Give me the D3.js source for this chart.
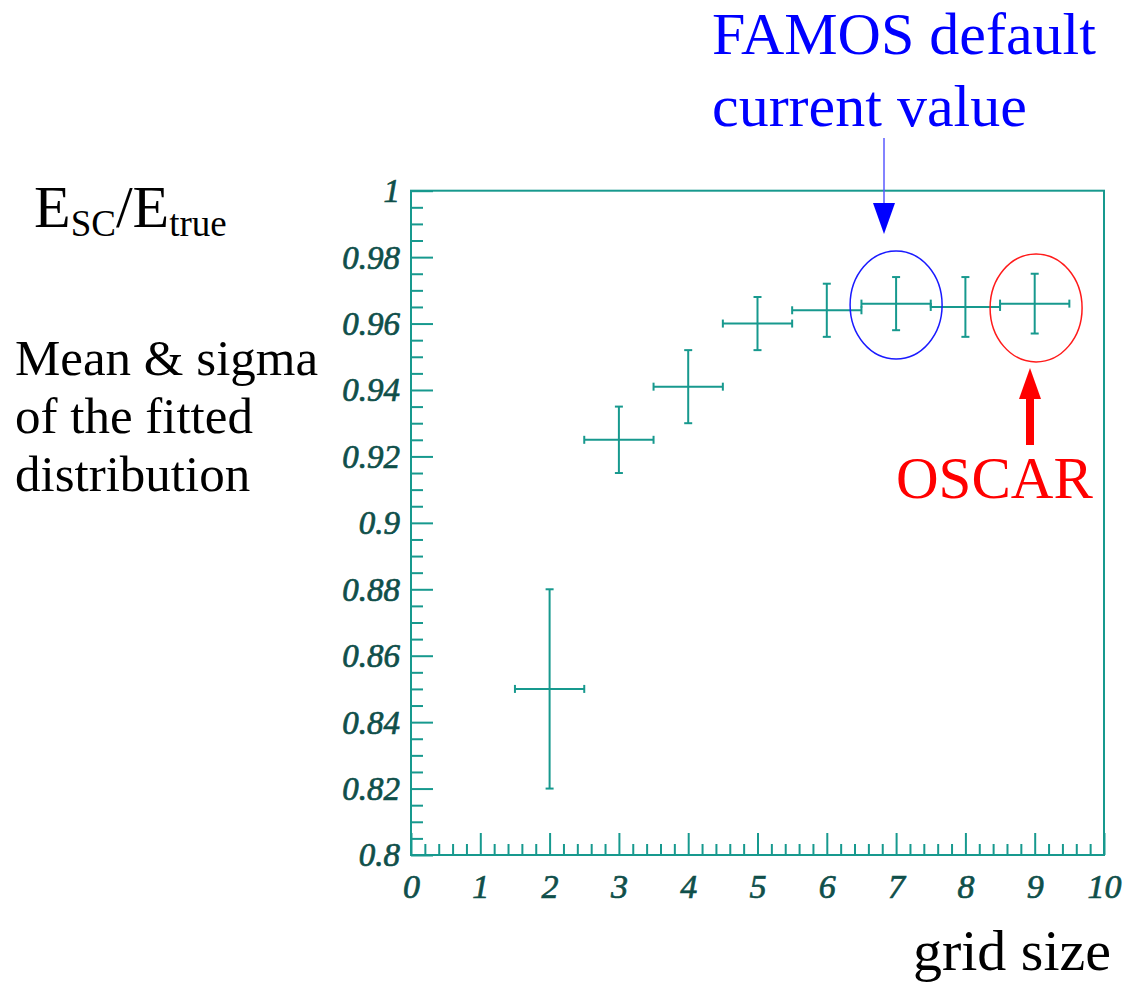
<!DOCTYPE html>
<html>
<head>
<meta charset="utf-8">
<script src="https://cdn.jsdelivr.net/npm/d3@7"></script>
<style>
  html, body { margin: 0; padding: 0; background: #fff; }
  svg { display: block; }
</style>
</head>
<body>
<script>
// ---- data ----
const gridSize = [2, 3, 4, 5, 6, 7, 8, 9];
const meanVal  = [0.850, 0.925, 0.941, 0.960, 0.964, 0.966, 0.965, 0.966];
const sigmaVal = [0.030, 0.010, 0.011, 0.008, 0.008, 0.008, 0.009, 0.009];
const xHalfWidth = 0.5;
const xTicks = [0, 1, 2, 3, 4, 5, 6, 7, 8, 9, 10];
const yTicks = [0.8, 0.82, 0.84, 0.86, 0.88, 0.9, 0.92, 0.94, 0.96, 0.98, 1];
const yTickLabels = ["0.8", "0.82", "0.84", "0.86", "0.88", "0.9", "0.92", "0.94", "0.96", "0.98", "1"];
const xTickLabels = ["0", "1", "2", "3", "4", "5", "6", "7", "8", "9", "10"];
const famosPoint = [7, 0.9656];
const oscarPoint = [9.02, 0.9647];

// ---- layout ----
const W = 1124, H = 988;
const L = 411, R = 1104, T = 190.7, B = 855;
const axisColor = "#17998e";
const labelColor = "#0f4f4a";

const svg = d3.select("body").append("svg").attr("width", W).attr("height", H);

const x = d3.scaleLinear().domain([0, 10]).range([L, R]);
const y = d3.scaleLinear().domain([0.8, 1]).range([B, T]);

// minor ticks
const xMinor = d3.range(0, 10.001, 0.2).filter(v => Math.abs(v - Math.round(v)) > 1e-6);
const yMinor = d3.range(0.8, 1.0001, 0.005).filter(v => Math.abs(v * 50 - Math.round(v * 50)) > 1e-6);

const gx = svg.append("g").attr("transform", `translate(0,${B})`)
  .call(d3.axisBottom(x).tickValues(xTicks).tickSize(-22).tickPadding(12)
    .tickFormat((d, i) => xTickLabels[i]));
const gxm = svg.append("g").attr("transform", `translate(0,${B})`)
  .call(d3.axisBottom(x).tickValues(xMinor).tickSize(-11).tickFormat(""));
const gy = svg.append("g").attr("transform", `translate(${L},0)`)
  .call(d3.axisLeft(y).tickValues(yTicks).tickSize(-22).tickPadding(11)
    .tickFormat((d, i) => yTickLabels[i]));
const gym = svg.append("g").attr("transform", `translate(${L},0)`)
  .call(d3.axisLeft(y).tickValues(yMinor).tickSize(-12).tickFormat(""));

[gx, gxm, gy, gym].forEach(g => {
  g.select(".domain").remove();
  g.selectAll(".tick line").attr("stroke", axisColor).attr("stroke-width", 2);
});
[gx, gy].forEach(g => g.selectAll(".tick text")
  .attr("fill", labelColor)
  .attr("stroke", labelColor)
  .attr("stroke-width", 0.7)
  .attr("font-family", "Liberation Serif, Times New Roman, serif")
  .attr("font-style", "italic"));
gy.selectAll(".tick text").attr("font-size", 33).attr("dy", "0.33em");
gx.selectAll(".tick text").attr("font-size", 34).attr("dy", "0.9em");

// frame
svg.append("rect").attr("x", L).attr("y", T).attr("width", R - L).attr("height", B - T)
  .attr("fill", "none").attr("stroke", axisColor).attr("stroke-width", 2);

// error bars
const pts = gridSize.map((g, i) => ({ g, m: meanVal[i], s: sigmaVal[i] }));
const eb = svg.append("g").attr("stroke", axisColor).attr("stroke-width", 2).attr("fill", "none");
const cap = 4;
pts.forEach(p => {
  const cx = x(p.g), cy = y(p.m);
  const x0 = x(p.g - xHalfWidth), x1 = x(p.g + xHalfWidth);
  const y0 = y(p.m - p.s), y1 = y(p.m + p.s);
  eb.append("line").attr("x1", x0).attr("x2", x1).attr("y1", cy).attr("y2", cy);
  eb.append("line").attr("x1", cx).attr("x2", cx).attr("y1", y0).attr("y2", y1);
  eb.append("line").attr("x1", x0).attr("x2", x0).attr("y1", cy - cap).attr("y2", cy + cap);
  eb.append("line").attr("x1", x1).attr("x2", x1).attr("y1", cy - cap).attr("y2", cy + cap);
  eb.append("line").attr("x1", cx - cap).attr("x2", cx + cap).attr("y1", y0).attr("y2", y0);
  eb.append("line").attr("x1", cx - cap).attr("x2", cx + cap).attr("y1", y1).attr("y2", y1);
});

// ellipses
svg.append("ellipse").attr("cx", x(famosPoint[0])).attr("cy", y(famosPoint[1]))
  .attr("rx", 46).attr("ry", 54).attr("fill", "none").attr("stroke", "#1a1aff").attr("stroke-width", 1.5);
svg.append("ellipse").attr("cx", x(oscarPoint[0])).attr("cy", y(oscarPoint[1]))
  .attr("rx", 46).attr("ry", 54).attr("fill", "none").attr("stroke", "#ff1a1a").attr("stroke-width", 1.5);

const serif = "Liberation Serif, Times New Roman, serif";

// FAMOS annotation
svg.append("text").attr("x", 712).attr("y", 54).attr("font-family", serif).attr("font-size", 60)
  .attr("fill", "#0000ff").text("FAMOS default");
svg.append("text").attr("x", 712).attr("y", 126).attr("font-family", serif).attr("font-size", 60)
  .attr("fill", "#0000ff").text("current value");
svg.append("line").attr("x1", 884).attr("x2", 884).attr("y1", 138).attr("y2", 206)
  .attr("stroke", "#5a5aff").attr("stroke-width", 1.5);
svg.append("path").attr("d", "M873,203 L895,203 L884,234 Z").attr("fill", "#0000ff");

// OSCAR annotation
svg.append("rect").attr("x", 1026).attr("y", 395).attr("width", 8).attr("height", 50).attr("fill", "#ff0000");
svg.append("path").attr("d", "M1019,399 L1041,399 L1030,368 Z").attr("fill", "#ff0000");
svg.append("text").attr("x", 896).attr("y", 498).attr("font-family", serif).attr("font-size", 59)
  .attr("fill", "#ff0000").text("OSCAR");

// left labels
const e = svg.append("text").attr("x", 34).attr("y", 227).attr("font-family", serif).attr("font-size", 60).attr("fill", "#000");
e.append("tspan").text("E");
e.append("tspan").attr("font-size", 37).attr("dy", 9).text("SC");
e.append("tspan").attr("dy", -9).text("/E");
e.append("tspan").attr("font-size", 37).attr("dy", 9).text("true");

const lines = ["Mean & sigma", "of the fitted", "distribution"];
svg.append("g").selectAll("text").data(lines).join("text")
  .attr("x", 15).attr("y", (d, i) => 375 + i * 58)
  .attr("font-family", serif).attr("font-size", 51).attr("fill", "#000")
  .text(d => d);

// x title
svg.append("text").attr("x", 1111).attr("y", 970).attr("text-anchor", "end")
  .attr("font-family", serif).attr("font-size", 58).attr("fill", "#000").text("grid size");
</script>
</body>
</html>
